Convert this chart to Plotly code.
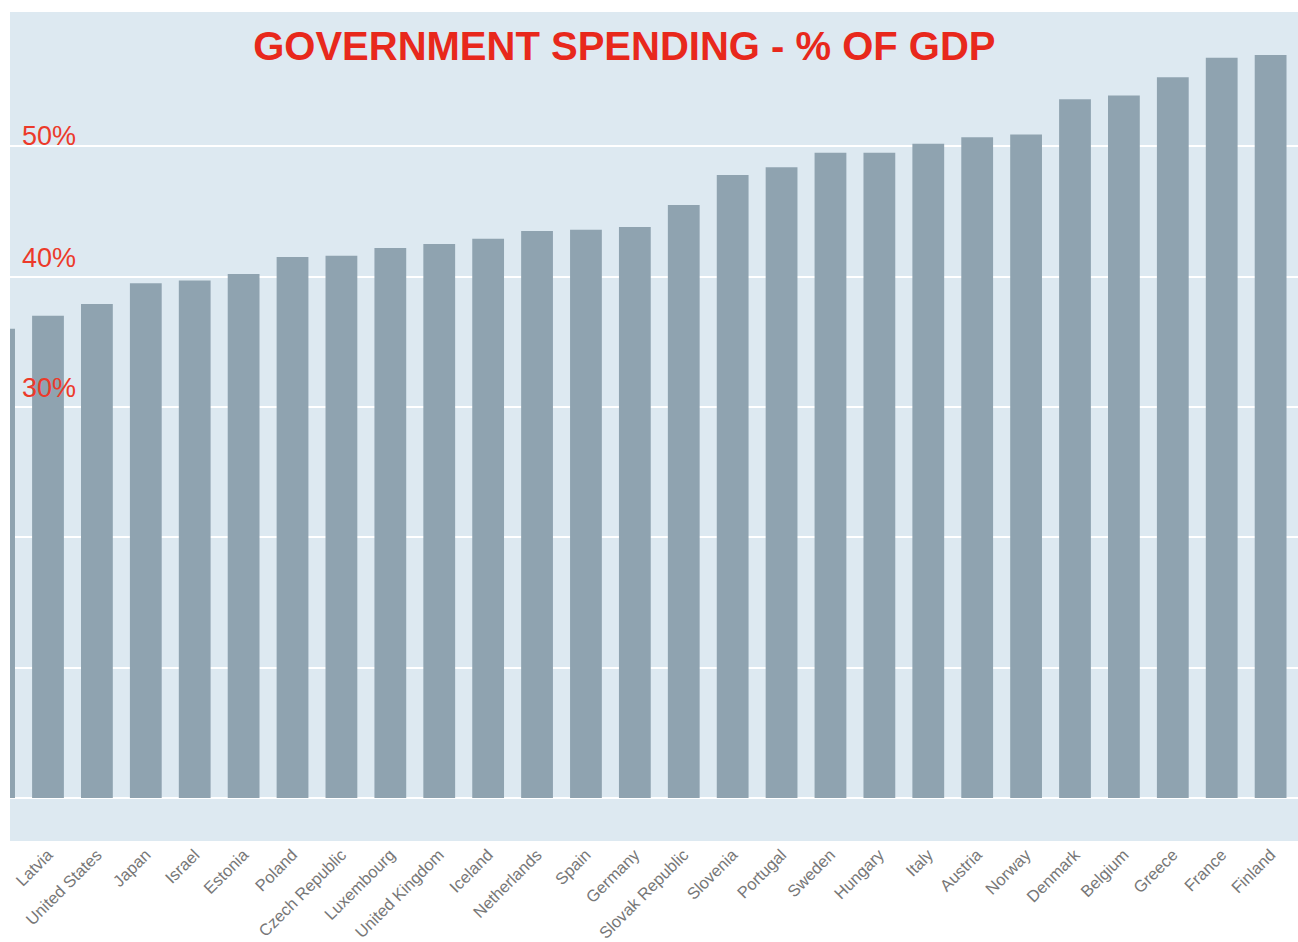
import plotly.graph_objects as go

# Data (percent of GDP)
countries = ["Latvia", "United States", "Japan", "Israel", "Estonia", "Poland",
             "Czech Republic", "Luxembourg", "United Kingdom", "Iceland", "Netherlands",
             "Spain", "Germany", "Slovak Republic", "Slovenia", "Portugal", "Sweden",
             "Hungary", "Italy", "Austria", "Norway", "Denmark", "Belgium", "Greece",
             "France", "Finland"]
spending = [37.0, 37.9, 39.5, 39.7, 40.2, 41.5, 41.6, 42.2, 42.5, 42.9, 43.5,
            43.6, 43.8, 45.5, 47.8, 48.4, 49.5, 49.5, 50.2, 50.7, 50.9, 53.6,
            53.9, 55.3, 56.8, 57.0]
# bar cropped off at the left edge of the reference (label not visible)
cropped_value = [36.0]
tick_labels = ["30%", "40%", "50%"]
tick_values = [30, 40, 50]
grid_values = [0, 10, 20, 30, 40, 50]

values = cropped_value + spending
positions = list(range(-len(cropped_value), len(spending)))

BAR = "#8fa3b0"
BG = "#dde9f1"
RED = "#e8281c"

fig = go.Figure()
fig.add_trace(go.Bar(x=positions, y=values, marker=dict(color=BAR, line=dict(width=0)),
                     width=0.65, showlegend=False, hoverinfo="y"))

# label placement offsets (pixels) as in the reference
label_shifts = {30: 2, 40: 2, 50: -7}
for lab, val in zip(tick_labels, tick_values):
    fig.add_annotation(x=0.008, xref="paper", y=val, yref="y", text=lab,
                       showarrow=False, xanchor="left", yanchor="bottom",
                       yshift=label_shifts[val],
                       font=dict(family="Liberation Sans, Arial", size=27, color="#ec3a2a"))

fig.update_layout(
    width=1298, height=942,
    margin=dict(l=10, r=0, t=12, b=99),
    paper_bgcolor="white", plot_bgcolor=BG,
    title=dict(text="<b>GOVERNMENT SPENDING - % OF GDP</b>", x=0.481, xanchor="center",
               y=0.951, yanchor="middle",
               font=dict(family="Liberation Sans, Arial", size=40, color=RED)),
    bargap=0.35,
)
fig.update_xaxes(range=[-0.777, 25.56], tickmode="array",
                 tickvals=list(range(len(countries))), ticktext=countries,
                 tickangle=-45, showgrid=False, zeroline=False, showline=False,
                 ticks="", tickfont=dict(family="Liberation Sans, Arial", size=16.5, color="#777777"))
fig.update_yaxes(range=[-3.29, 60.3], tickmode="array", tickvals=grid_values,
                 showticklabels=False,
                 showgrid=True, gridcolor="white", gridwidth=2,
                 zeroline=True, zerolinecolor="white", zerolinewidth=2, showline=False)

fig.write_html("out.html", config={"displayModeBar": False},
               post_script="document.body.style.margin='0';document.body.style.overflow='hidden';")
